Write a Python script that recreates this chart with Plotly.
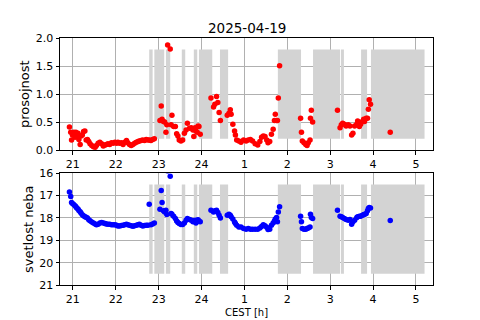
import plotly.graph_objects as go

# time in hours (continuous, 24 = midnight, 25 = 1 h ...)
hours = [
    20.92, 20.95, 20.97, 20.99, 21.02, 21.05, 21.07, 21.09, 21.12, 21.14,
    21.17, 21.19, 21.22, 21.25, 21.28, 21.31, 21.34, 21.37, 21.40, 21.44,
    21.48, 21.52, 21.55, 21.59, 21.63, 21.67, 21.71, 21.75, 21.78, 21.82,
    21.86, 21.90, 21.94, 21.98, 22.02, 22.05, 22.09, 22.13, 22.17, 22.21,
    22.25, 22.28, 22.32, 22.36, 22.40, 22.44, 22.48, 22.52, 22.55, 22.59,
    22.63, 22.67, 22.71, 22.75, 22.78, 22.82, 22.86, 22.90,
    23.03, 23.06, 23.08, 23.11, 23.14, 23.17, 23.19, 23.21, 23.27, 23.29,
    23.31, 23.35, 23.39, 23.42, 23.45, 23.48, 23.52, 23.56, 23.60, 23.64,
    23.67, 23.72, 23.76, 23.80, 23.82, 23.85, 23.87, 23.90, 23.92, 23.94,
    23.97,
    24.22, 24.28, 24.31, 24.35, 24.38, 24.41, 24.44,
    24.60, 24.64, 24.67, 24.69, 24.73, 24.77, 24.79, 24.82, 24.87, 24.92,
    24.98, 25.04, 25.09, 25.14, 25.19, 25.25, 25.31, 25.36, 25.40, 25.44,
    25.48, 25.52, 25.55, 25.59, 25.63, 25.67, 25.70, 25.72, 25.75, 25.77,
    25.79, 25.82,
    26.31, 26.33, 26.35, 26.39, 26.43, 26.46, 26.49, 26.53, 26.54, 26.56,
    26.59,
    27.17, 27.23, 27.26, 27.29, 27.33, 27.37, 27.42, 27.46, 27.50, 27.53,
    27.57, 27.62, 27.64, 27.68, 27.71, 27.75, 27.78, 27.80, 27.84, 27.87,
    27.89, 27.91, 27.94,
    28.40,
]

prosojnost = [
    0.41, 0.32, 0.18, 0.27, 0.32, 0.23, 0.32, 0.24, 0.30, 0.19,
    0.10, 0.25, 0.27, 0.33, 0.34, 0.18, 0.19, 0.15, 0.11, 0.08,
    0.06, 0.05, 0.08, 0.12, 0.14, 0.11, 0.07, 0.09, 0.10, 0.11,
    0.10, 0.13, 0.12, 0.14, 0.12, 0.14, 0.12, 0.13, 0.10, 0.14,
    0.17, 0.13, 0.10, 0.08, 0.10, 0.12, 0.14, 0.15, 0.16, 0.17,
    0.18, 0.17, 0.19, 0.18, 0.18, 0.17, 0.19, 0.20,
    0.53, 0.79, 0.55, 0.51, 0.50, 0.32, 0.45, 1.88, 1.81, 0.45,
    0.62, 0.42, 0.42, 0.29, 0.25, 0.18, 0.16, 0.18, 0.30, 0.36,
    0.48, 0.39, 0.40, 0.36, 0.24, 0.40, 0.34, 0.32, 0.43, 0.42,
    0.28,
    0.93, 0.77, 0.82, 0.96, 0.85, 0.67, 0.53,
    0.62, 0.66, 0.72, 0.64, 0.46, 0.34, 0.27, 0.18, 0.16, 0.14,
    0.18, 0.16, 0.18, 0.19, 0.16, 0.11, 0.09, 0.15, 0.23, 0.25,
    0.24, 0.18, 0.13, 0.15, 0.28, 0.37, 0.53, 0.64, 0.53, 0.53,
    0.93, 1.51,
    0.57, 0.32, 0.16, 0.13, 0.10, 0.08, 0.13, 0.18, 0.57, 0.71,
    0.50,
    0.71, 0.40, 0.45, 0.48, 0.46, 0.43, 0.45, 0.43, 0.27, 0.30,
    0.43, 0.46, 0.52, 0.42, 0.46, 0.51, 0.55, 0.51, 0.57, 0.57,
    0.73, 0.90, 0.82,
    0.32,
]

svetlost = [
    16.84, 17.04, 17.31, 17.35, 17.40, 17.45, 17.50, 17.55, 17.60, 17.66,
    17.72, 17.78, 17.85, 17.90, 17.94, 17.97, 18.00, 18.08, 18.12, 18.18,
    18.22, 18.27, 18.30, 18.28, 18.22, 18.20, 18.22, 18.25, 18.27, 18.28,
    18.28, 18.30, 18.30, 18.30, 18.32, 18.36, 18.36, 18.34, 18.33, 18.30,
    18.28, 18.30, 18.33, 18.35, 18.37, 18.35, 18.33, 18.30, 18.28, 18.32,
    18.36, 18.34, 18.33, 18.32, 17.38, 18.30, 18.27, 18.22,
    17.61, 16.77, 17.31, 17.68, 17.73, 17.65, 17.84, 15.90, 16.13, 17.80,
    17.83, 17.92, 18.02, 18.13, 18.20, 18.25, 18.29, 18.29, 18.22, 18.10,
    18.02, 18.07, 18.10, 18.17, 18.12, 18.10, 18.22, 18.10, 18.08, 18.13,
    18.17,
    17.65, 17.73, 17.68, 17.65, 17.75, 17.88, 18.00,
    17.88, 17.83, 17.88, 17.95, 18.05, 18.18, 18.25, 18.32, 18.40, 18.40,
    18.47, 18.50, 18.47, 18.50, 18.50, 18.50, 18.50, 18.45, 18.38, 18.30,
    18.35, 18.42, 18.52, 18.50, 18.32, 18.22, 18.13, 18.05, 17.98, 18.17,
    17.73, 17.50,
    17.92, 18.17, 18.47, 18.50, 18.50, 18.47, 18.45, 18.40, 17.83, 17.98,
    18.02,
    17.65, 17.92, 17.95, 17.98, 18.02, 18.07, 18.10, 18.07, 18.28, 18.17,
    18.10, 17.98, 17.95, 17.92, 17.92, 17.88, 17.85, 17.83, 17.80, 17.68,
    17.58, 17.53, 17.55,
    18.11,
]

# cloud (gray) intervals, hours
cloud_start = [22.78, 22.90, 23.17, 23.54, 23.82, 23.94, 24.43, 25.78, 26.60, 27.25, 27.72, 27.95]
cloud_end   = [22.86, 23.13, 23.27, 23.62, 23.90, 24.25, 24.62, 26.32, 27.23, 27.32, 27.86, 29.20]

x_ticks = [21, 22, 23, 24, 25, 26, 27, 28, 29]
x_ticktext = ["21", "22", "23", "24", "1", "2", "3", "4", "5"]
top_band = [0.2, 1.8]
bottom_band = [16.5, 20.5]

centers = [(a + b) / 2 for a, b in zip(cloud_start, cloud_end)]
widths = [b - a for a, b in zip(cloud_start, cloud_end)]

GRAY = "#d3d3d3"
FONT = "DejaVu Sans"

fig = go.Figure()
fig.add_trace(go.Bar(x=centers, width=widths, base=[top_band[0]] * len(centers),
                     y=[top_band[1] - top_band[0]] * len(centers),
                     marker=dict(color=GRAY, line=dict(width=0)),
                     xaxis="x", yaxis="y", showlegend=False, hoverinfo="skip"))
fig.add_trace(go.Bar(x=centers, width=widths, base=[bottom_band[0]] * len(centers),
                     y=[bottom_band[1] - bottom_band[0]] * len(centers),
                     marker=dict(color=GRAY, line=dict(width=0)),
                     xaxis="x2", yaxis="y2", showlegend=False, hoverinfo="skip"))
fig.add_trace(go.Scatter(x=hours, y=prosojnost, mode="markers",
                         marker=dict(color="#ff0000", size=5.5, line=dict(width=0)),
                         xaxis="x", yaxis="y", showlegend=False))
fig.add_trace(go.Scatter(x=hours, y=svetlost, mode="markers",
                         marker=dict(color="#0000ff", size=5.5, line=dict(width=0)),
                         xaxis="x2", yaxis="y2", showlegend=False))

axis_common = dict(
    showgrid=True, gridcolor="#b0b0b0", gridwidth=0.8,
    showline=True, linecolor="black", linewidth=1, mirror=True,
    ticks="outside", ticklen=3.5, tickwidth=0.8, tickcolor="black",
    tickfont=dict(family=FONT, size=11, color="black"),
    zeroline=False, automargin=False,
)
xdom = [60 / 480, 432.7 / 480]
fig.update_layout(
    width=480, height=320,
    margin=dict(l=0, r=0, t=0, b=0, autoexpand=False),
    paper_bgcolor="white", plot_bgcolor="white",
    barmode="overlay",
    font=dict(family=FONT, color="black"),
    xaxis=dict(domain=xdom, range=[20.70, 29.39], tickvals=x_ticks, ticktext=x_ticktext,
               anchor="y", **axis_common),
    yaxis=dict(domain=[(320 - 150) / 320, (320 - 38.3) / 320], range=[0, 2],
               tickvals=[0, 0.5, 1.0, 1.5, 2.0], ticktext=["0.0", "0.5", "1.0", "1.5", "2.0"],
               anchor="x", **axis_common),
    xaxis2=dict(domain=xdom, range=[20.70, 29.39], tickvals=x_ticks, ticktext=x_ticktext,
                anchor="y2", **axis_common),
    yaxis2=dict(domain=[(320 - 285) / 320, (320 - 173.3) / 320], range=[21, 16],
                tickvals=[16, 17, 18, 19, 20, 21], anchor="x2", **axis_common),
    annotations=[
        dict(text="2025-04-19", x=246.5 / 480, y=1 - 28 / 320, xref="paper", yref="paper",
             showarrow=False, xanchor="center", yanchor="middle",
             font=dict(family=FONT, size=13.5, color="black")),
        dict(text="prosojnost", x=25 / 480, y=1 - 94 / 320, xref="paper", yref="paper",
             showarrow=False, textangle=-90, xanchor="center", yanchor="middle",
             font=dict(family=FONT, size=13, color="black")),
        dict(text="svetlost neba", x=28 / 480, y=1 - 229 / 320, xref="paper", yref="paper",
             showarrow=False, textangle=-90, xanchor="center", yanchor="middle",
             font=dict(family=FONT, size=13, color="black")),
        dict(text="CEST [h]", x=246.5 / 480, y=1 - 312.5 / 320, xref="paper", yref="paper",
             showarrow=False, xanchor="center", yanchor="middle",
             font=dict(family=FONT, size=10, color="black")),
    ],
)

fig.write_html("out.html", config={"displayModeBar": False},
               post_script="document.body.style.margin='0';")
